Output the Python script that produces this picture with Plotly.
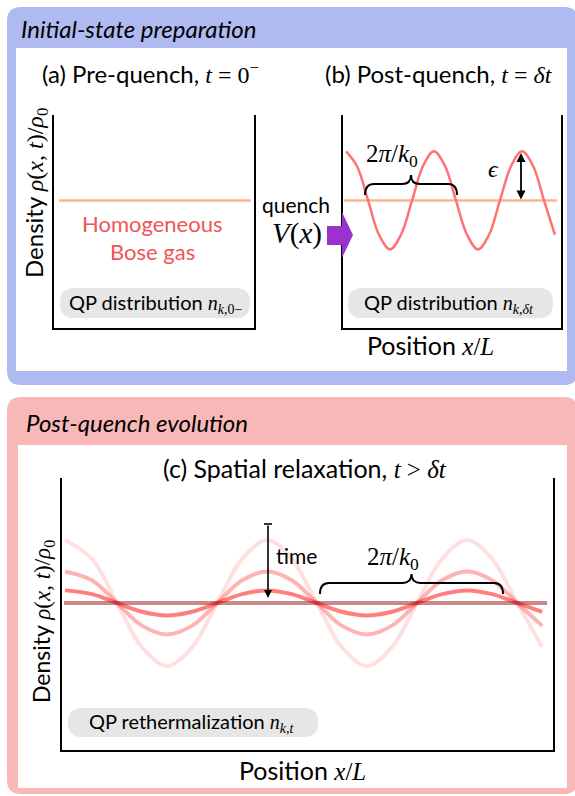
import plotly.graph_objects as go

W, H = 575, 796
SANS = "Lato"
SERIF = "Liberation Serif"

# ---------------- data ----------------
# panel (a): homogeneous gas, density rho/rho0 vs position x/L
a_x = [0.025, 0.985]
a_rho = [1.0, 1.0]

# panel (b): post-quench density modulation
b_flat_x = [0.005, 0.982]
b_flat_rho = [1.0, 1.0]
b_x = [0.014, 0.064, 0.115, 0.165, 0.216, 0.266, 0.317, 0.367, 0.417, 0.468,
       0.518, 0.569, 0.619, 0.670, 0.720, 0.771, 0.821, 0.872, 0.922, 0.972]
b_rho = [1.50, 1.35, 1.00, 0.65, 0.50, 0.65, 1.00, 1.35, 1.50, 1.35,
         1.00, 0.65, 0.50, 0.65, 1.00, 1.35, 1.50, 1.35, 1.00, 0.65]

# panel (c): relaxation of the modulation over time
c_x = [0.006, 0.061, 0.112, 0.163, 0.214, 0.265, 0.316, 0.367, 0.418, 0.468,
       0.519, 0.570, 0.621, 0.672, 0.723, 0.774, 0.825, 0.876, 0.927, 0.978]
c_rho_t1 = [1.50, 1.35, 1.00, 0.65, 0.50, 0.65, 1.00, 1.35, 1.50, 1.35,
            1.00, 0.65, 0.50, 0.65, 1.00, 1.35, 1.50, 1.35, 1.00, 0.65]
c_rho_t2 = [1.25, 1.18, 1.00, 0.82, 0.75, 0.82, 1.00, 1.18, 1.25, 1.18,
            1.00, 0.82, 0.75, 0.82, 1.00, 1.18, 1.25, 1.18, 1.00, 0.82]
c_rho_t3 = [1.10, 1.07, 1.00, 0.93, 0.90, 0.93, 1.00, 1.07, 1.10, 1.07,
            1.00, 0.93, 0.90, 0.93, 1.00, 1.07, 1.10, 1.07, 1.00, 0.93]
c_eq_x = [0.004, 0.988]
c_eq_rho = [1.0, 1.0]


# ---------------- helpers ----------------
def px(x):
    return x / W


def py(y):
    return 1 - y / H


def mi(s):
    return f'<span style="font-family:{SERIF}"><i>{s}</i></span>'


def mr(s):
    return f'<span style="font-family:{SERIF}">{s}</span>'


def path(cmds):
    out = []
    for c in cmds:
        if isinstance(c, str):
            out.append(c)
        else:
            out.append(f"{px(c[0]):.5f},{py(c[1]):.5f}")
    return " ".join(out)


def rrect(x0, y0, x1, y1, r):
    return path(["M", (x0 + r, y0), "L", (x1 - r, y0), "Q", (x1, y0), (x1, y0 + r),
                 "L", (x1, y1 - r), "Q", (x1, y1), (x1 - r, y1),
                 "L", (x0 + r, y1), "Q", (x0, y1), (x0, y1 - r),
                 "L", (x0, y0 + r), "Q", (x0, y0), (x0 + r, y0), "Z"])


def brace(x1, x2, ye, ya, yt, r=9):
    xm = (x1 + x2) / 2
    return path(["M", (x1, ye), "Q", (x1, ya), (x1 + r, ya), "L", (xm - r, ya),
                 "Q", (xm, ya), (xm, yt), "Q", (xm, ya), (xm + r, ya),
                 "L", (x2 - r, ya), "Q", (x2, ya), (x2, ye)])


def txt(s, x, y, size=17, color="black", anchor="center", angle=0, family=SANS):
    return dict(text=s, x=px(x), y=py(y), xref="paper", yref="paper", showarrow=False,
                xanchor=anchor, yanchor="middle", textangle=angle,
                font=dict(size=size, color=color, family=family))


fig = go.Figure()

# ---------------- traces ----------------
fig.add_trace(go.Scatter(x=a_x, y=a_rho, mode="lines", xaxis="x", yaxis="y",
                         line=dict(color="rgb(255,180,145)", width=2.5), hoverinfo="skip"))
fig.add_trace(go.Scatter(x=b_flat_x, y=b_flat_rho, mode="lines", xaxis="x2", yaxis="y2",
                         line=dict(color="rgb(255,180,145)", width=2.5), hoverinfo="skip"))
fig.add_trace(go.Scatter(x=b_x, y=b_rho, mode="lines", xaxis="x2", yaxis="y2",
                         line=dict(color="rgb(255,115,115)", width=2.5, shape="spline", smoothing=1.0),
                         hoverinfo="skip"))
for rho, col in [(c_rho_t1, "rgba(255,40,40,0.15)"), (c_rho_t2, "rgba(255,40,40,0.35)"),
                 (c_rho_t3, "rgba(255,40,40,0.6)")]:
    fig.add_trace(go.Scatter(x=c_x, y=rho, mode="lines", xaxis="x3", yaxis="y3",
                             line=dict(color=col, width=4, shape="spline", smoothing=1.0),
                             hoverinfo="skip"))
fig.add_trace(go.Scatter(x=c_eq_x, y=c_eq_rho, mode="lines", xaxis="x3", yaxis="y3",
                         line=dict(color="rgba(150,20,20,0.5)", width=4), hoverinfo="skip"))

# ---------------- axes ----------------
def xax(x0, x1):
    return dict(domain=[px(x0), px(x1)], range=[0, 1], showline=True, linecolor="black",
                linewidth=1.6, showticklabels=False, ticks="", showgrid=False, zeroline=False)


def yax(y0, y1, rng, anchor):
    return dict(domain=[py(y1), py(y0)], range=rng, showline=True, mirror=True, linecolor="black",
                linewidth=1.6, showticklabels=False, ticks="", showgrid=False, zeroline=False,
                anchor=anchor)


ab_range = [-0.3, 1.87]
c_range = [-0.167, 1.992]

# ---------------- shapes ----------------
shapes = [
    dict(type="path", path=rrect(7, 7, 578, 385, 14), xref="paper", yref="paper",
         fillcolor="#AFBAF1", line=dict(width=0), layer="below"),
    dict(type="rect", x0=px(16), x1=px(567), y0=py(371), y1=py(48), xref="paper", yref="paper",
         fillcolor="white", line=dict(width=0), layer="below"),
    dict(type="path", path=rrect(7, 397, 578, 794, 14), xref="paper", yref="paper",
         fillcolor="#F9B8B8", line=dict(width=0), layer="below"),
    dict(type="rect", x0=px(18), x1=px(567), y0=py(788), y1=py(445), xref="paper", yref="paper",
         fillcolor="white", line=dict(width=0), layer="below"),
    dict(type="path", path=rrect(60, 288, 250, 318, 14), xref="paper", yref="paper",
         fillcolor="#E6E6E6", line=dict(width=0), layer="below"),
    dict(type="path", path=rrect(348, 288, 553, 318, 14), xref="paper", yref="paper",
         fillcolor="#E6E6E6", line=dict(width=0), layer="below"),
    dict(type="path", path=rrect(68, 708, 318, 737, 14), xref="paper", yref="paper",
         fillcolor="#E6E6E6", line=dict(width=0), layer="below"),
    # braces
    dict(type="path", path=brace(365, 457, 195, 184, 175), xref="paper", yref="paper",
         line=dict(color="black", width=2), layer="above"),
    dict(type="path", path=brace(320, 503, 594, 583, 574), xref="paper", yref="paper",
         line=dict(color="black", width=2), layer="above"),
    # time arrow tail bar
    dict(type="line", x0=px(264), x1=px(272), y0=py(524), y1=py(524), xref="paper", yref="paper",
         line=dict(color="black", width=1.6), layer="above"),
    # quench arrow
    dict(type="path",
         path=path(["M", (327, 226), "L", (342, 226), "L", (342, 212), "L", (353, 235),
                    "L", (342, 258), "L", (342, 245), "L", (327, 245), "Z"]),
         xref="paper", yref="paper", fillcolor="rgb(155,50,205)", line=dict(width=0), layer="above"),
]

# ---------------- annotations ----------------
dens = "Density " + mi("ρ") + mr("(") + mi("x") + mr(", ") + mi("t") + mr(")/") + mi("ρ") + mr("<sub>0</sub>")
pos = "Position " + mi("x") + mr("/") + mi("L")
wl = mr("2") + mi("π") + mr("/") + mi("k") + mr("<sub>0</sub>")

ann = [
    txt("<i>Initial-state preparation</i>", 19, 28, size=24, anchor="left"),
    txt("(a) Pre-quench, " + mi("t") + mr(" = 0<sup>−</sup>"), 150, 73, size=24),
    txt("(b) Post-quench, " + mi("t") + mr(" = ") + mi("δt"), 439, 73, size=24),
    txt(dens, 35, 193, size=24, angle=-90),
    txt("Homogeneous", 152, 223, color="rgb(240,85,85)", size=22),
    txt("Bose gas", 152, 252, color="rgb(240,85,85)", size=22),
    txt("QP distribution " + mi("n") + "<sub>" + mi("k") + mr(",0−") + "</sub>", 156, 303, size=20),
    txt("QP distribution " + mi("n") + "<sub>" + mi("k") + mr(",") + mi("δt") + "</sub>", 449, 303, size=20),
    txt("quench", 296, 205, size=21),
    txt(mi("V") + mr("(") + mi("x") + mr(")"), 297, 233, size=29),
    txt(wl, 392, 156, size=25),
    txt(mi("ϵ"), 493, 169, size=24),
    txt(pos, 430, 345, size=25),
    txt("<i>Post-quench evolution</i>", 24, 422, size=24, anchor="left"),
    txt("(c) Spatial relaxation, " + mi("t") + mr(" > ") + mi("δt"), 305, 468, size=25),
    txt(dens, 42, 622, size=23, angle=-90),
    txt("time", 274, 555, size=21, anchor="left"),
    txt(wl, 393, 558, size=25),
    txt("QP rethermalization " + mi("n") + "<sub>" + mi("k") + mr(",") + mi("t") + "</sub>", 192, 722, size=20),
    txt(pos, 302, 770, size=25),
    # epsilon double arrow
    dict(text="", x=px(521), y=py(153), xref="paper", yref="paper", showarrow=True,
         ax=0, ay=48, arrowhead=2, arrowside="end+start", arrowsize=1, arrowwidth=1.8,
         arrowcolor="black"),
    # time arrow
    dict(text="", x=px(268), y=py(598), xref="paper", yref="paper", showarrow=True,
         ax=0, ay=-74, arrowhead=2, arrowsize=1, arrowwidth=1.6, arrowcolor="black"),
]

fig.update_layout(
    width=W, height=H, margin=dict(l=0, r=0, t=0, b=0),
    paper_bgcolor="white", plot_bgcolor="rgba(0,0,0,0)", showlegend=False,
    xaxis=xax(54, 254), yaxis=yax(115, 328, ab_range, "x"),
    xaxis2=xax(343, 561), yaxis2=yax(115, 328, ab_range, "x2"),
    xaxis3=xax(62, 553), yaxis3=yax(478, 750, c_range, "x3"),
    shapes=shapes, annotations=ann,
)
fig.update_xaxes(fixedrange=True)
fig.update_yaxes(fixedrange=True)
fig.update_layout(xaxis2_anchor="y2", xaxis3_anchor="y3", xaxis_anchor="y")

fig.write_html("out.html")
